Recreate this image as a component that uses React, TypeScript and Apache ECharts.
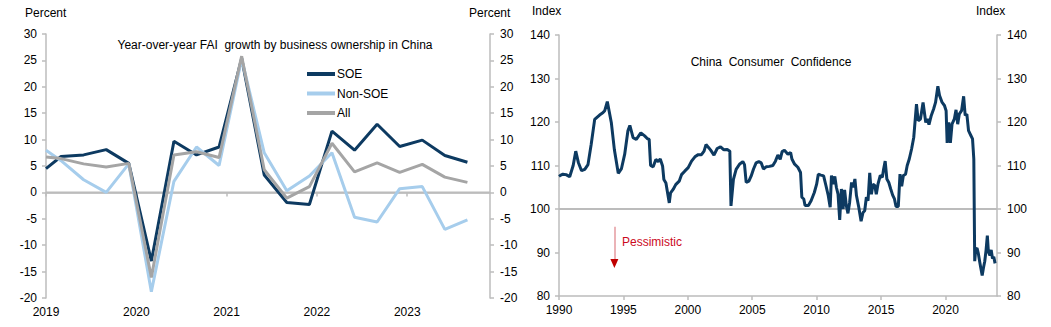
import React, { useEffect, useRef } from "react";
import * as echarts from "echarts";

// ---------- Left chart data (quarterly FAI growth, % y/y) ----------
const faiDates = [
  "2019-01", "2019-03", "2019-06", "2019-09", "2019-12",
  "2020-03", "2020-06", "2020-09", "2020-12",
  "2021-03", "2021-06", "2021-09", "2021-12",
  "2022-03", "2022-06", "2022-09", "2022-12",
  "2023-03", "2023-06", "2023-09",
];
const soe = [4.5, 6.8, 7.1, 8.1, 5.5, -13.0, 9.7, 7.1, 8.6, 25.4, 3.3, -1.9, -2.3, 11.6, 8.0, 12.9, 8.7, 9.9, 7.0, 5.7];
const nonSoe = [8.0, 6.0, 2.4, 0.0, 5.4, -18.8, 2.1, 8.6, 5.1, 25.3, 7.5, 0.3, 3.1, 7.5, -4.7, -5.6, 0.7, 1.1, -7.0, -5.2];
const allFai = [6.7, 6.4, 5.4, 4.8, 5.5, -16.1, 7.1, 7.7, 6.6, 25.8, 4.3, -1.1, 1.1, 9.3, 3.9, 5.6, 3.8, 5.3, 2.9, 1.9];
const faiTicks = [-20, -15, -10, -5, 0, 5, 10, 15, 20, 25, 30];
const faiZero = 0;

// ---------- Right chart data (China consumer confidence index) ----------
const consumerConfidence: [number, number][] = [
  [1990.0, 107.5], [1990.15, 107.8], [1990.3, 108.0], [1990.55, 107.9], [1990.83, 107.4], [1991.1, 110.0], [1991.3, 113.3], [1991.5, 110.7], [1991.75, 108.8], [1992.0, 109.1], [1992.25, 110.2], [1992.5, 114.9], [1992.77, 120.6], [1993.15, 121.6], [1993.4, 122.1], [1993.55, 122.6], [1993.75, 124.7], [1994.06, 119.9], [1994.3, 113.6], [1994.6, 108.2], [1994.85, 109.3], [1995.1, 112.6], [1995.35, 118.0], [1995.5, 119.2], [1995.75, 116.4], [1996.0, 116.0], [1996.35, 117.5], [1996.65, 116.8],
  [1996.85, 116.2], [1997.0, 116.0], [1997.11, 110.0], [1997.31, 109.7], [1997.52, 111.4], [1997.7, 110.9], [1997.86, 111.5], [1998.04, 109.9], [1998.14, 106.8], [1998.3, 106.0], [1998.56, 101.4], [1998.66, 103.7], [1998.86, 104.5], [1999.06, 105.6], [1999.33, 106.4], [1999.51, 107.9], [1999.76, 108.7], [2000.03, 109.5], [2000.29, 111.0], [2000.55, 112.0], [2000.81, 112.5], [2001.06, 112.5], [2001.26, 113.3], [2001.41, 114.8], [2001.59, 114.2], [2001.76, 113.6], [2002.03, 112.4], [2002.28, 113.9], [2002.54, 114.3], [2002.8, 113.6], [2003.06, 113.7], [2003.26, 113.3], [2003.35, 100.7],
  [2003.54, 106.8], [2003.75, 109.1], [2004.01, 110.3], [2004.27, 110.9], [2004.4, 110.2], [2004.53, 106.1], [2004.74, 106.4], [2004.92, 107.6], [2005.1, 109.2], [2005.3, 110.6], [2005.51, 110.9], [2005.7, 110.6], [2005.87, 109.2], [2006.08, 109.7], [2006.34, 109.8], [2006.6, 110.0], [2006.8, 111.0], [2006.99, 112.4], [2007.17, 111.4], [2007.32, 113.2], [2007.5, 113.5],
  [2007.77, 112.6], [2007.98, 113.0], [2008.08, 111.5], [2008.29, 110.3], [2008.54, 109.6], [2008.75, 108.4], [2008.85, 102.7], [2009.0, 102.3], [2009.1, 100.8], [2009.36, 100.8], [2009.57, 101.9], [2009.82, 103.8], [2010.0, 105.7], [2010.13, 108.0], [2010.33, 107.8], [2010.54, 107.6], [2010.72, 105.4], [2010.9, 103.1], [2011.05, 100.4], [2011.15, 107.7], [2011.3, 105.7], [2011.41, 107.5], [2011.53, 105.0], [2011.66, 103.4], [2011.79, 97.5], [2011.92, 104.6], [2012.05, 100.0], [2012.17, 104.4], [2012.3, 100.8], [2012.43, 99.0], [2012.56, 101.5], [2012.71, 106.1], [2012.84, 105.0], [2012.97, 106.9], [2013.09, 103.1], [2013.27, 100.4], [2013.45, 97.2], [2013.6, 99.2], [2013.73, 99.6], [2013.86, 102.7], [2013.99, 101.9], [2014.12, 108.3], [2014.25, 103.4], [2014.37, 105.7], [2014.51, 105.4], [2014.63, 103.4], [2014.76, 105.7], [2014.94, 107.7], [2015.1, 107.3], [2015.2, 109.2], [2015.32, 111.0], [2015.45, 106.9], [2015.6, 106.1], [2015.75, 104.6], [2015.9, 103.2], [2016.04, 102.3], [2016.16, 100.6], [2016.34, 100.6], [2016.47, 108.0], [2016.6, 105.2], [2016.73, 107.7], [2016.9, 108.0], [2017.03, 110.0], [2017.19, 111.5], [2017.37, 113.8], [2017.54, 116.5], [2017.75, 124.1], [2017.88, 120.3], [2018.06, 120.7], [2018.26, 124.5], [2018.47, 119.9], [2018.6, 120.7], [2018.72, 119.4], [2018.9, 121.5], [2019.08, 123.0], [2019.23, 124.5], [2019.41, 128.2], [2019.54, 126.1], [2019.74, 124.5], [2019.92, 123.8], [2020.05, 122.6], [2020.13, 115.2], [2020.26, 119.9], [2020.38, 115.2], [2020.51, 119.5], [2020.69, 120.7], [2020.82, 122.8], [2020.95, 119.5], [2021.07, 121.8], [2021.25, 122.6], [2021.41, 125.9], [2021.53, 121.5], [2021.66, 121.8], [2021.79, 118.0], [2021.97, 116.9], [2022.1, 116.1], [2022.2, 111.5],
  [2022.27, 88.0], [2022.35, 90.8], [2022.45, 91.0], [2022.55, 89.8], [2022.65, 88.0], [2022.75, 86.3], [2022.85, 84.7], [2022.95, 86.5], [2023.05, 88.0], [2023.15, 90.5], [2023.25, 93.9], [2023.33, 90.2], [2023.45, 89.3], [2023.55, 90.6], [2023.65, 88.6], [2023.75, 89.0], [2023.85, 87.5],
];
const ccNeutral = 100;
const pessimisticArrow = { year: 1994.3, from: 95.9, headCenter: 87.5 };

// ---------- helpers ----------
const toYear = (d: string) => {
  const [y, m] = d.split("-").map(Number);
  return y + (m - 1) / 12;
};
const zipFai = (vals: number[]) => faiDates.map((d, i) => [toYear(d), vals[i]]);

const FONT = "'Liberation Sans', Arial, sans-serif";
const NAVY = "#0d3a61";
const LIGHT = "#a6cdec";
const GRAY = "#a5a5a5";
const AXIS = "#bcbcbc";

const baseAxisStyle = {
  axisLine: { show: true, lineStyle: { color: AXIS, width: 1.5 } },
  axisTick: { show: true, inside: false, length: 4, lineStyle: { color: AXIS, width: 1.5 } },
  splitLine: { show: false },
};

const yAxisCommon = (gridIndex: number, position: "left" | "right", min: number, max: number, interval: number) => ({
  type: "value",
  gridIndex,
  position,
  min,
  max,
  interval,
  ...baseAxisStyle,
  axisLabel: { color: "#000", fontSize: 12, fontFamily: FONT, margin: position === "left" ? 9 : 10 },
});

const option: any = {
  animation: false,
  backgroundColor: "#ffffff",
  textStyle: { fontFamily: FONT },
  grid: [
    { left: 46, top: 34, width: 444, height: 264 },
    { left: 559, top: 35, width: 438, height: 261 },
  ],
  xAxis: [
    {
      type: "value",
      gridIndex: 0,
      min: 2019,
      max: 2019 + 59 / 12,
      interval: 1,
      ...baseAxisStyle,
      axisLabel: {
        color: "#000",
        fontSize: 12,
        fontFamily: FONT,
        margin: 8,
        showMaxLabel: false,
        formatter: (v: number) => (Number.isInteger(v) ? String(v) : ""),
      },
    },
    {
      type: "value",
      gridIndex: 1,
      min: 1990,
      max: 2024,
      interval: 5,
      ...baseAxisStyle,
      axisLabel: {
        color: "#000",
        fontSize: 12,
        fontFamily: FONT,
        margin: 8,
        showMaxLabel: false,
        formatter: (v: number) => (v % 5 === 0 ? String(v) : ""),
      },
    },
  ],
  yAxis: [
    yAxisCommon(0, "left", faiTicks[0], faiTicks[faiTicks.length - 1], 5),
    yAxisCommon(0, "right", faiTicks[0], faiTicks[faiTicks.length - 1], 5),
    yAxisCommon(1, "left", 80, 140, 10),
    yAxisCommon(1, "right", 80, 140, 10),
  ],
  legend: {
    data: ["SOE", "Non-SOE", "All"],
    orient: "vertical",
    left: 302,
    top: 63,
    itemWidth: 28,
    itemHeight: 4,
    itemGap: 7.5,
    icon: "rect",
    textStyle: { fontSize: 12, fontFamily: FONT, color: "#000", padding: [0, 0, 0, -3] },
  },
  series: [
    {
      name: "zero",
      type: "line",
      xAxisIndex: 0,
      yAxisIndex: 0,
      z: 1,
      silent: true,
      symbol: "none",
      data: [[2019, faiZero], [2019 + 59 / 12, faiZero]],
      lineStyle: { color: AXIS, width: 2 },
    },
    {
      name: "SOE",
      type: "line",
      xAxisIndex: 0,
      yAxisIndex: 0,
      symbol: "none",
      data: zipFai(soe),
      itemStyle: { color: NAVY },
      lineStyle: { color: NAVY, width: 3 },
    },
    {
      name: "Non-SOE",
      type: "line",
      xAxisIndex: 0,
      yAxisIndex: 0,
      symbol: "none",
      data: zipFai(nonSoe),
      itemStyle: { color: LIGHT },
      lineStyle: { color: LIGHT, width: 3 },
    },
    {
      name: "All",
      type: "line",
      xAxisIndex: 0,
      yAxisIndex: 0,
      symbol: "none",
      data: zipFai(allFai),
      itemStyle: { color: GRAY },
      lineStyle: { color: GRAY, width: 3 },
    },
    {
      name: "neutral",
      type: "line",
      xAxisIndex: 1,
      yAxisIndex: 2,
      z: 1,
      silent: true,
      symbol: "none",
      data: [[1990, ccNeutral], [2024, ccNeutral]],
      lineStyle: { color: AXIS, width: 2 },
    },
    {
      name: "China Consumer Confidence",
      type: "line",
      xAxisIndex: 1,
      yAxisIndex: 2,
      symbol: "none",
      data: consumerConfidence,
      itemStyle: { color: NAVY },
      lineStyle: { color: NAVY, width: 3 },
      markLine: {
        silent: true,
        symbol: ["none", "none"],
        label: { show: false },
        lineStyle: { color: "#e59a9f", width: 1.5, type: "solid" },
        data: [
          [
            { coord: [pessimisticArrow.year, pessimisticArrow.from] },
            { coord: [pessimisticArrow.year, pessimisticArrow.headCenter] },
          ],
        ],
      },
      markPoint: {
        silent: true,
        symbol: "triangle",
        symbolRotate: 180,
        symbolSize: [8, 9],
        label: { show: false },
        itemStyle: { color: "#c00000" },
        data: [{ coord: [pessimisticArrow.year, pessimisticArrow.headCenter] }],
      },
    },
  ],
  graphic: [
    { type: "text", left: 25, top: 7, style: { text: "Percent", fontSize: 12, fontFamily: FONT, fill: "#000" } },
    { type: "text", left: 469, top: 7, style: { text: "Percent", fontSize: 12, fontFamily: FONT, fill: "#000" } },
    {
      type: "text",
      x: 275,
      y: 45,
      style: {
        text: "Year-over-year FAI  growth by business ownership in China",
        fontSize: 12,
        fontFamily: FONT,
        fill: "#000",
        align: "center",
        verticalAlign: "middle",
      },
    },
    { type: "text", left: 532, top: 5, style: { text: "Index", fontSize: 12, fontFamily: FONT, fill: "#000" } },
    { type: "text", left: 976, top: 5, style: { text: "Index", fontSize: 12, fontFamily: FONT, fill: "#000" } },
    {
      type: "text",
      x: 771,
      y: 62,
      style: {
        text: "China  Consumer  Confidence",
        fontSize: 12,
        fontFamily: FONT,
        fill: "#000",
        align: "center",
        verticalAlign: "middle",
      },
    },
    {
      type: "text",
      x: 622,
      y: 242,
      style: { text: "Pessimistic", fontSize: 12, fontFamily: FONT, fill: "#cc0a1e", verticalAlign: "middle" },
    },
  ],
};

export default function App() {
  const ref = useRef<HTMLDivElement>(null);
  useEffect(() => {
    if (!ref.current) return;
    const chart = echarts.init(ref.current, null, { renderer: "svg" });
    chart.setOption(option);
    return () => chart.dispose();
  }, []);
  return (
    <div
      ref={ref}
      style={{ position: "fixed", left: 0, top: 0, width: 1051, height: 327, background: "#fff" }}
    />
  );
}
